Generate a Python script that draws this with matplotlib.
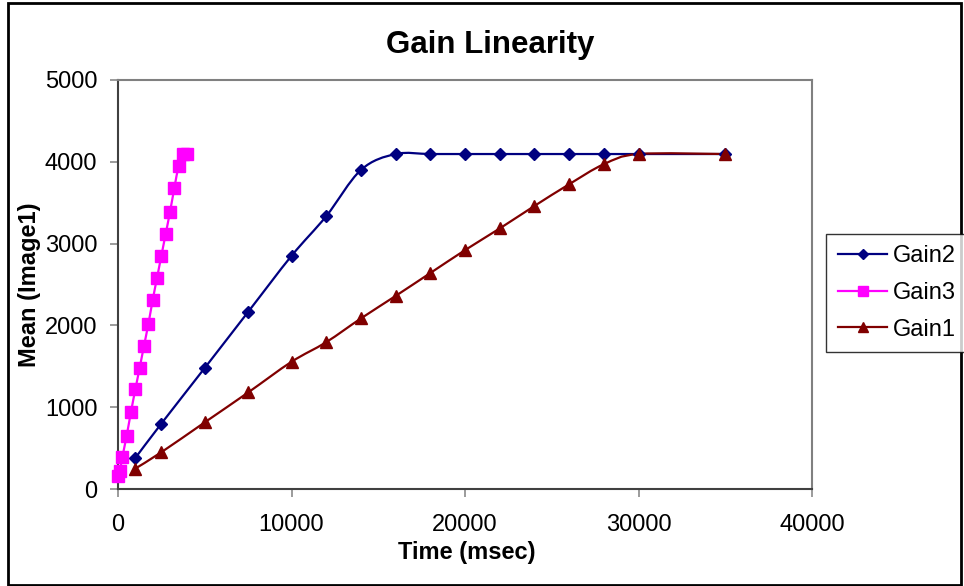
import matplotlib
matplotlib.use('Agg')
import matplotlib.pyplot as plt
from matplotlib.path import Path
from matplotlib.patches import PathPatch, Rectangle
from matplotlib.lines import Line2D
import numpy as np

plt.rcParams['font.family'] = ['Liberation Sans', 'DejaVu Sans']

title = "Gain Linearity"
x_label = "Time (msec)"
y_label = "Mean (Image1)"

gain2_x = [1000, 2500, 5000, 7500, 10000, 12000, 14000, 16000, 18000, 20000,
           22000, 24000, 26000, 28000, 30000, 35000]
gain2_y = [380, 800, 1480, 2165, 2850, 3335, 3900, 4095, 4095, 4095,
           4095, 4095, 4095, 4095, 4095, 4095]

gain3_x = [0, 100, 250, 500, 750, 1000, 1250, 1500, 1750, 2000, 2250, 2500,
           2750, 3000, 3250, 3500, 3750, 4000]
gain3_y = [160, 215, 390, 652, 945, 1219, 1483, 1752, 2017, 2311, 2583, 2852,
           3121, 3390, 3683, 3952, 4095, 4095]

gain1_x = [1000, 2500, 5000, 7500, 10000, 12000, 14000, 16000, 18000, 20000,
           22000, 24000, 26000, 28000, 30000, 35000]
gain1_y = [250, 450, 815, 1180, 1555, 1795, 2085, 2360, 2640, 2920,
           3185, 3460, 3725, 3970, 4095, 4095]

x_ticks = [0, 10000, 20000, 30000, 40000]
y_ticks = [0, 1000, 2000, 3000, 4000, 5000]

W, H = 964, 586
fig = plt.figure(figsize=(W / 100, H / 100), dpi=100)
fig.patch.set_facecolor('white')
ax = fig.add_axes([118 / W, 1 - 489 / H, (812 - 118) / W, (489 - 80) / H])


def smooth_path(xs, ys):
    pts = np.column_stack([xs, ys]).astype(float)
    n = len(pts)
    verts = [pts[0]]
    codes = [Path.MOVETO]
    for i in range(n - 1):
        p0 = pts[i - 1] if i > 0 else pts[i]
        p1 = pts[i]
        p2 = pts[i + 1]
        p3 = pts[i + 2] if i + 2 < n else pts[i + 1]
        c1 = p1 + (p2 - p0) / 6.0
        c2 = p2 - (p3 - p1) / 6.0
        verts += [c1, c2, p2]
        codes += [Path.CURVE4] * 3
    return Path(verts, codes)


series = [
    ("Gain2", gain2_x, gain2_y, '#000080', 'D', 6.5, 5.0),
    ("Gain3", gain3_x, gain3_y, '#FF00FF', 's', 8.0, 6.5),
    ("Gain1", gain1_x, gain1_y, '#800000', '^', 8.5, 7.5),
]

handles = []
for name, xs, ys, col, mk, ms, lms in series:
    patch = PathPatch(smooth_path(xs, ys), facecolor='none', edgecolor=col,
                      lw=1.6, transform=ax.transData, clip_on=False)
    ax.add_patch(patch)
    ax.plot(xs, ys, linestyle='none', marker=mk, markersize=ms, color=col,
            markeredgecolor=col, clip_on=False, zorder=3)
    handles.append(Line2D([], [], color=col, lw=1.6, marker=mk, markersize=lms,
                          markeredgecolor=col, label=name))

ax.set_xlim(0, 40000)
ax.set_ylim(0, 5000)
ax.set_xticks(x_ticks)
ax.set_yticks(y_ticks)
ax.set_xticklabels([str(v) for v in x_ticks])
ax.set_yticklabels([str(v) for v in y_ticks])
ax.tick_params(axis='both', direction='out', length=5.8, width=1.1,
               color='#808080', labelsize=17, labelcolor='black')
ax.tick_params(axis='y', pad=9)
ax.tick_params(axis='x', pad=12)

for s in ['left', 'bottom']:
    ax.spines[s].set_color('#404040')
    ax.spines[s].set_linewidth(1.5)
for s in ['top', 'right']:
    ax.spines[s].set_color('#808080')
    ax.spines[s].set_linewidth(1.5)

fig.text(490 / W, 1 - 45 / H, title, ha='center', va='center',
         fontsize=22.5, fontweight='bold')
fig.text(467 / W, 1 - 553 / H, x_label, ha='center', va='center',
         fontsize=17, fontweight='bold')
fig.text(30 / W, 1 - 285 / H, y_label, ha='center', va='center',
         fontsize=17, fontweight='bold', rotation=90)

leg = fig.legend(handles=handles, loc='center left',
                 bbox_to_anchor=(826 / W, 1 - 293 / H),
                 bbox_transform=fig.transFigure, borderaxespad=0,
                 fontsize=17, frameon=True, fancybox=False,
                 handlelength=2.1, handletextpad=0.25, labelspacing=0.62,
                 borderpad=0.5)
leg.get_frame().set_edgecolor('black')
leg.get_frame().set_linewidth(1.0)

fig.add_artist(Rectangle((7.5 / W, 1.5 / H), (961 - 7.5) / W, (583.5 - 1.5) / H,
                         transform=fig.transFigure, fill=False,
                         edgecolor='black', lw=2.0))

fig.savefig('out.png', dpi=100)
